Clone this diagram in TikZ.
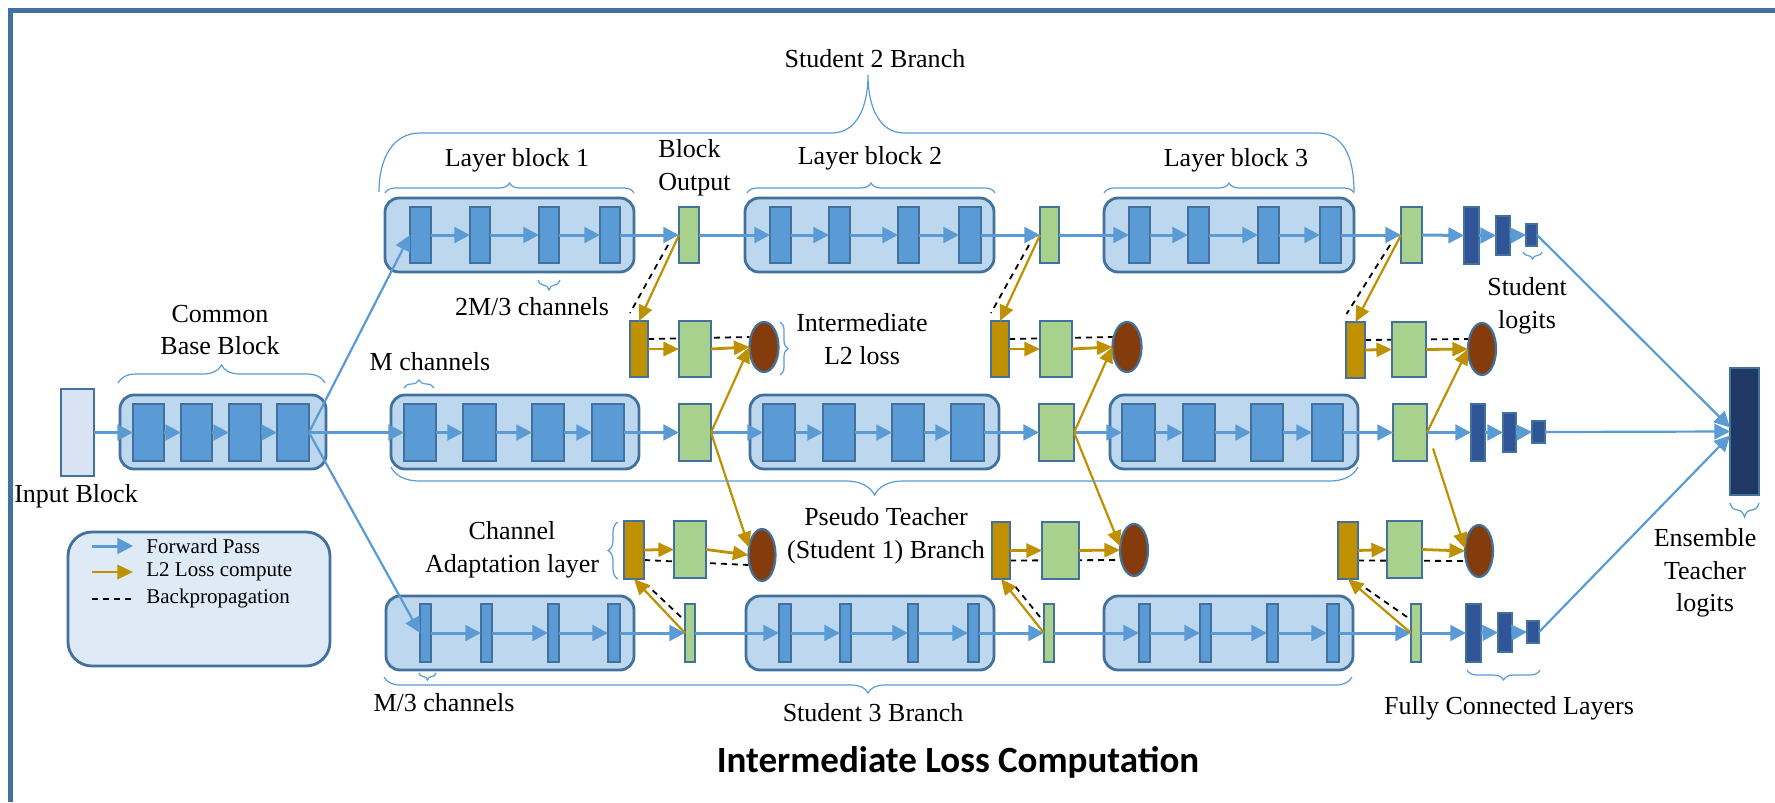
\documentclass[tikz,border=0pt]{standalone}
\usepackage{fontspec}
\setmainfont{Liberation Serif}
\newfontfamily\titlefont{Carlito}
\usetikzlibrary{arrows.meta,shapes.geometric,decorations.pathreplacing}
\pgfdeclarelayer{bg}
\pgfdeclarelayer{paper}
\pgfsetlayers{paper,bg,main}

\definecolor{frameblue}{HTML}{41719C}
\definecolor{blockfill}{HTML}{BDD7EE}
\definecolor{layerblue}{HTML}{5B9BD5}
\definecolor{outgreen}{HTML}{A9D18E}
\definecolor{adaptgold}{HTML}{BF9000}
\definecolor{lossbrown}{HTML}{843C0C}
\definecolor{fcblue}{HTML}{2F5597}
\definecolor{ensnavy}{HTML}{203864}
\definecolor{inputfill}{HTML}{DAE3F3}
\definecolor{legendfill}{HTML}{DEEBF7}

% rectangle node given by its left, top, right and bottom edges (pixel units)
\newcommand\boxnode[6]{%
  \node[#1, minimum width={(#5-#3)*0.5pt}, minimum height={(#6-#4)*0.5pt}]
    (#2) at ({(#3+#5)/2},{(#4+#6)/2}) {};}
% loss ellipse: name, centre, half width, half height (pixel units)
\newcommand\lossnode[4]{%
  \node[loss, minimum width={#3*1pt}, minimum height={#4*1pt}] (#1) at (#2) {};}

\begin{document}
\begin{tikzpicture}[x=0.5pt,y=-0.5pt,
  block/.style={draw=frameblue, fill=blockfill, line width=1.4pt, rounded corners=7pt, inner sep=0pt, outer sep=0pt},
  layer/.style={draw=frameblue, fill=layerblue, line width=1.1pt, inner sep=0pt, outer sep=0pt},
  outbar/.style={layer, fill=outgreen},
  adapt/.style={layer, fill=adaptgold},
  fc/.style={layer, fill=fcblue},
  loss/.style={ellipse, draw=frameblue, fill=lossbrown, line width=1.1pt, inner sep=0pt, outer sep=0pt},
  fwd/.style={draw=layerblue, line width=1.5pt, -{Triangle[length=7.8pt,width=7.8pt]}},
  fwdlong/.style={fwd, line width=1.1pt},
  ltwo/.style={draw=adaptgold, line width=1.4pt, -{Triangle[length=7.8pt,width=7pt]}},
  ltwodiag/.style={ltwo, line width=1.1pt},
  backprop/.style={draw=black, line width=0.9pt, dash pattern=on 3pt off 2.5pt},
  bracel/.style={draw=layerblue, line width=0.6pt, decorate, decoration={brace, amplitude=#1}},
  bracel/.default=5pt,
  lbl/.style={font=\fontsize{13}{16.3}\selectfont, inner sep=0pt, align=center},
  legtext/.style={font=\fontsize{10.5}{12}\selectfont, inner sep=0pt, anchor=west}]

\useasboundingbox (0,0) rectangle (1775,802);
\begin{pgfonlayer}{paper}
\fill[white] (0,0) rectangle (1775,802);
\end{pgfonlayer}
% slide frame (top and left edges)
\draw[frameblue, line width=2.5pt] (10.5,802) -- (10.5,11) -- (1775,11);

% ---------- input and common base block ----------
\boxnode{layer, fill=inputfill}{inp}{61}{389}{94}{476}
\boxnode{block}{base}{120}{395}{326}{469}
\boxnode{layer}{c1}{133}{404}{164}{461}
\boxnode{layer}{c2}{181}{404}{212}{461}
\boxnode{layer}{c3}{229}{404}{261}{461}
\boxnode{layer}{c4}{277}{404}{309}{461}

% ---------- student 2 branch (top) ----------
\boxnode{block}{tr1}{385}{198}{634}{272}
\boxnode{layer}{t1}{410}{207}{431}{263}
\boxnode{layer}{t2}{470}{207}{490}{263}
\boxnode{layer}{t3}{539}{207}{559}{263}
\boxnode{layer}{t4}{600}{207}{620}{263}
\boxnode{outbar}{tg1}{679}{207}{699}{263}
\boxnode{block}{tr2}{745}{198}{994}{272}
\boxnode{layer}{t5}{770}{207}{791}{263}
\boxnode{layer}{t6}{829}{207}{850}{263}
\boxnode{layer}{t7}{898}{207}{919}{263}
\boxnode{layer}{t8}{959}{207}{981}{263}
\boxnode{outbar}{tg2}{1040}{207}{1059}{263}
\boxnode{block}{tr3}{1104}{198}{1354}{272}
\boxnode{layer}{t9}{1129}{207}{1150}{263}
\boxnode{layer}{t10}{1188}{207}{1209}{263}
\boxnode{layer}{t11}{1258}{207}{1279}{263}
\boxnode{layer}{t12}{1320}{207}{1341}{263}
\boxnode{outbar}{tg3}{1401}{207}{1422}{263}
\boxnode{fc}{tf1}{1464}{207}{1479}{264}
\boxnode{fc}{tf2}{1496}{216}{1510}{255}
\boxnode{fc}{tf3}{1526}{224}{1537}{246}

% ---------- pseudo teacher (student 1) branch (middle) ----------
\boxnode{block}{mr1}{391}{395}{639}{469}
\boxnode{layer}{m1}{404}{404}{436}{461}
\boxnode{layer}{m2}{463}{404}{496}{461}
\boxnode{layer}{m3}{532}{404}{564}{461}
\boxnode{layer}{m4}{592}{404}{624}{461}
\boxnode{outbar}{mg1}{679}{404}{711}{461}
\boxnode{block}{mr2}{750}{395}{999}{469}
\boxnode{layer}{m5}{763}{404}{795}{461}
\boxnode{layer}{m6}{823}{404}{855}{461}
\boxnode{layer}{m7}{892}{404}{924}{461}
\boxnode{layer}{m8}{951}{404}{984}{461}
\boxnode{outbar}{mg2}{1039}{404}{1074}{461}
\boxnode{block}{mr3}{1110}{395}{1358}{469}
\boxnode{layer}{m9}{1122}{404}{1155}{461}
\boxnode{layer}{m10}{1183}{404}{1215}{461}
\boxnode{layer}{m11}{1251}{404}{1283}{461}
\boxnode{layer}{m12}{1312}{404}{1343}{461}
\boxnode{outbar}{mg3}{1393}{404}{1427}{461}
\boxnode{fc}{mf1}{1471}{404}{1485}{461}
\boxnode{fc}{mf2}{1503}{413}{1516}{452}
\boxnode{fc}{mf3}{1532}{421}{1545}{443}

% ---------- student 3 branch (bottom) ----------
\boxnode{block}{br1}{386}{596}{634}{670}
\boxnode{layer}{b1}{420}{604}{431}{662}
\boxnode{layer}{b2}{481}{604}{492}{662}
\boxnode{layer}{b3}{548}{604}{559}{662}
\boxnode{layer}{b4}{608}{604}{620}{662}
\boxnode{outbar}{bg1}{685}{604}{695}{662}
\boxnode{block}{br2}{746}{596}{994}{670}
\boxnode{layer}{b5}{779}{604}{791}{662}
\boxnode{layer}{b6}{840}{604}{851}{662}
\boxnode{layer}{b7}{908}{604}{918}{662}
\boxnode{layer}{b8}{968}{604}{979}{662}
\boxnode{outbar}{bg2}{1044}{604}{1054}{662}
\boxnode{block}{br3}{1104}{596}{1353}{670}
\boxnode{layer}{b9}{1139}{604}{1150}{662}
\boxnode{layer}{b10}{1200}{604}{1211}{662}
\boxnode{layer}{b11}{1267}{604}{1278}{662}
\boxnode{layer}{b12}{1327}{604}{1339}{662}
\boxnode{outbar}{bg3}{1411}{604}{1421}{662}
\boxnode{fc}{bf1}{1466}{604}{1481}{662}
\boxnode{fc}{bf2}{1498}{613}{1512}{652}
\boxnode{fc}{bf3}{1527}{621}{1539}{643}

% ensemble teacher logits
\boxnode{fc, fill=ensnavy}{ens}{1730}{368}{1759}{495}

% ---------- intermediate loss rows ----------
\boxnode{adapt}{ga1}{630}{321}{648}{377}
\boxnode{outbar}{gg1}{679}{321}{711}{377}
\lossnode{e1}{764,347}{14.5}{25}
\boxnode{adapt}{ga2}{991}{321}{1009}{377}
\boxnode{outbar}{gg2}{1040}{321}{1072}{377}
\lossnode{e2}{1127,347}{14.5}{25}
\boxnode{adapt}{ga3}{1346}{322}{1365}{378}
\boxnode{outbar}{gg3}{1392}{322}{1426}{377}
\lossnode{e3}{1482,349}{14}{26}

\boxnode{adapt}{la1}{624}{521}{644}{579}
\boxnode{outbar}{lg1}{674}{521}{706}{578}
\lossnode{le1}{762,555}{13.5}{26}
\boxnode{adapt}{la2}{992}{522}{1010}{579}
\boxnode{outbar}{lg2}{1042}{522}{1079}{579}
\lossnode{le2}{1134,550}{14}{26}
\boxnode{adapt}{la3}{1338}{522}{1358}{579}
\boxnode{outbar}{lg3}{1387}{521}{1422}{578}
\lossnode{le3}{1479,551}{14}{26}

% ---------- legend ----------
\boxnode{block, fill=legendfill, rounded corners=12pt}{legend}{68}{532}{330}{666}
\coordinate (lgf0) at (92,546);  \coordinate (lgf1) at (133,546);
\coordinate (lgl0) at (92,572);  \coordinate (lgl1) at (133,572);
\coordinate (lgb0) at (92,599);  \coordinate (lgb1) at (134,599);
\draw[fwd] (lgf0) -- (lgf1);
\draw[ltwo] (lgl0) -- (lgl1);
\draw[backprop] (lgb0) -- (lgb1);
\node[legtext] (lgft) at (146,546) {Forward Pass};
\node[legtext] (lglt) at (146,572) {L2 Loss compute};
\node[legtext] (lgbt) at (146,598) {Backpropagation};

% ---------- forward pass ----------
\draw[fwd] (inp.east) -- (c1.west);
\foreach \a/\b in {c1/c2,c2/c3,c3/c4} \draw[fwd] (\a.east) -- (\b.west);
\draw[fwdlong] (c4.east) -- (t1.west);
\draw[fwd] (c4.east) -- (m1.west);
\draw[fwdlong] (c4.east) -- (b1.west);
\foreach \r in {t,m,b}{
  \foreach \a/\b in {1/2,2/3,3/4,5/6,6/7,7/8,9/10,10/11,11/12}
    \draw[fwd] (\r\a.east) -- (\r\b.west);
  \draw[fwd] (\r4.east) -- (\r g1.west);
  \draw[fwd] (\r g1.east) -- (\r5.west);
  \draw[fwd] (\r8.east) -- (\r g2.west);
  \draw[fwd] (\r g2.east) -- (\r9.west);
  \draw[fwd] (\r12.east) -- (\r g3.west);
  \draw[fwd] (\r g3.east) -- (\r f1.west);
  \draw[fwd] (\r f1.east) -- (\r f2.west);
  \draw[fwd] (\r f2.east) -- (\r f3.west);
}
\draw[fwdlong] (tf3.east) -- ([yshift=2pt]ens.west);
\draw[fwdlong] (mf3.east) -- (ens.west);
\draw[fwdlong] (bf3.east) -- ([yshift=-2pt]ens.west);

% ---------- L2 loss computation ----------
\foreach \i in {1,2,3}{
  \draw[ltwodiag] (tg\i.west) -- (ga\i.north);
  \draw[ltwo] (ga\i.east) -- (gg\i.west);
  \draw[ltwo] (gg\i.east) -- (e\i.west);
  \draw[ltwodiag] (bg\i.west) -- (la\i.south);
  \draw[ltwo] (la\i.east) -- (lg\i.west);
  \draw[ltwo] (lg\i.east) -- (le\i.west);
}
\draw[ltwodiag] (mg1.east) -- (e1.west);
\draw[ltwodiag] (mg1.east) -- (le1.150);
\draw[ltwodiag] (mg2.east) -- (e2.west);
\draw[ltwodiag] (mg2.east) -- (le2.165);
\draw[ltwodiag] (mg3.east) -- (e3.west);
\coordinate (mg3low) at ([xshift=3pt,yshift=-8pt]mg3.east);
\draw[ltwodiag] (mg3low) -- (le3.170);

% ---------- backpropagation (drawn beneath the boxes) ----------
\begin{pgfonlayer}{bg}
\foreach \i in {1,2,3}{
  \draw[backprop] ([xshift=-5.5pt,yshift=-5pt]tg\i.west) -- ([xshift=-4.5pt,yshift=4pt]ga\i.north);
  \draw[backprop] ([yshift=5pt]ga\i.east) -- ([yshift=5pt]e\i.west);
  \draw[backprop] ([xshift=-2pt,yshift=8pt]bg\i.west) -- ([xshift=6.5pt,yshift=-3pt]la\i.south);
  \draw[backprop] ([yshift=-5pt]la\i.east) -- ([yshift=-5pt]le\i.west);
}
\end{pgfonlayer}

% ---------- braces ----------
\draw[draw=layerblue, line width=0.6pt]
  (379,192) .. controls (379,158) and (393,133) .. (420,133) -- (832,133)
  .. controls (856,133) and (868,108) .. (868,75)
  .. controls (868,108) and (880,133) .. (904,133) -- (1317,133)
  .. controls (1344,133) and (1354,158) .. (1354,192);
\draw[bracel=5pt] (385,193) -- (634,193);
\draw[bracel=5pt] (747,193) -- (995,193);
\draw[bracel=5pt] (1104,193) -- (1354,193);
\draw[bracel=9pt] (118,383) -- (325,383);
\draw[bracel=4pt] (404,388) -- (434,388);
\draw[bracel=5pt] (560,280) -- (538,280);
\draw[bracel=3.5pt] (436,673) -- (419,673);
\draw[bracel=3.5pt] (1542,252) -- (1523,252);
\draw[bracel=5pt] (1540,670) -- (1467,670);
\draw[bracel=7pt] (1759,503) -- (1730,503);
\draw[bracel=14pt] (1358,467) -- (391,467);
\draw[bracel=8pt] (1352,677) -- (384,677);
\draw[bracel=5pt] (618,579) -- (618,522);
\draw[bracel=4pt] (780,322) -- (780,375);

% ---------- labels ----------
\node[lbl] (tS2) at (875,59) {Student 2 Branch};
\node[lbl] (tLB1) at (517,160) {Layer block 1};
\node[lbl] (tLB2) at (870,158) {Layer block 2};
\node[lbl] (tLB3) at (1236,160) {Layer block 3};
\node[lbl, align=left, anchor=west] (tBO) at (658,168) {Block\\Output};
\node[lbl] (t2M) at (532,307) {2M/3 channels};
\node[lbl] (tCB) at (220,330) {Common\\Base Block};
\node[lbl] (tM) at (430,362) {M channels};
\node[lbl] (tIL) at (862,339) {Intermediate\\L2 loss};
\node[lbl] (tSL) at (1527,306) {Student\\logits};
\node[lbl] (tIB) at (76,496) {Input Block};
\node[lbl] (tCA) at (512,550) {Channel\\Adaptation layer};
\node[lbl] (tPT) at (886,536) {Pseudo Teacher\\(Student 1) Branch};
\node[lbl] (tET) at (1705,573) {Ensemble\\Teacher\\logits};
\node[lbl] (tM3) at (444,703) {M/3 channels};
\node[lbl] (tS3) at (873,713) {Student 3 Branch};
\node[lbl] (tFC) at (1509,708) {Fully Connected Layers};
\node[font=\titlefont\bfseries\fontsize{18.5}{22}\selectfont, inner sep=0pt] (title) at (958,762) {Intermediate Loss Computation};
\end{tikzpicture}
\end{document}
